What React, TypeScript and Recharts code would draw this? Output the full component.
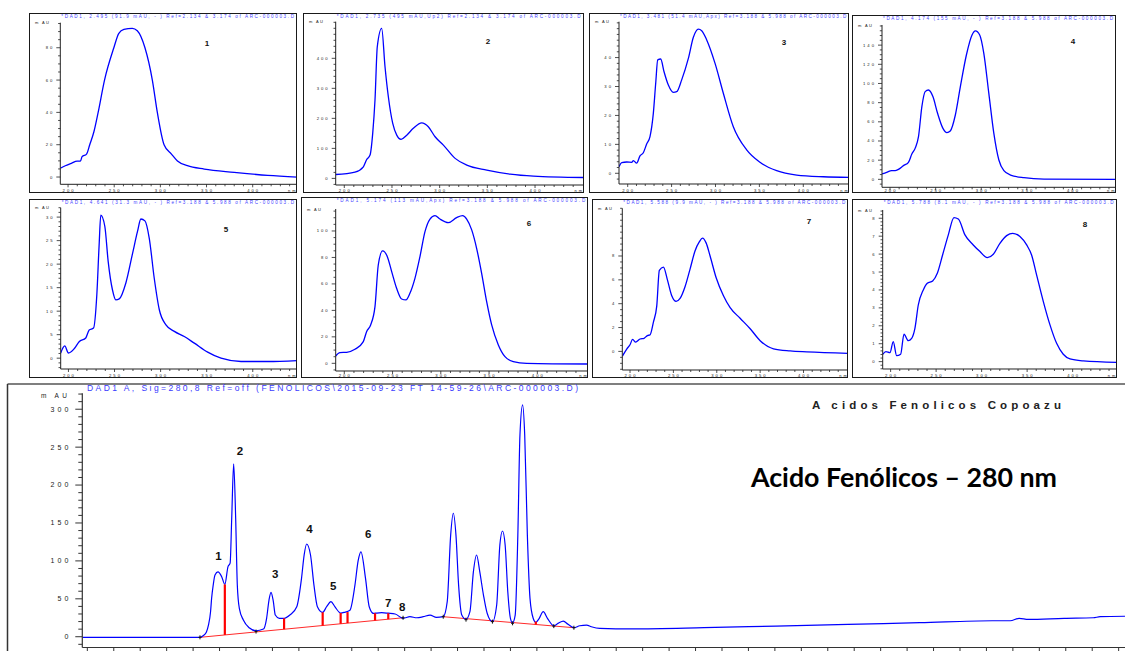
import React from 'react';
import { LineChart, Line, XAxis, YAxis, ComposedChart, ReferenceLine, ReferenceDot } from 'recharts';

// ---------- UV spectra (wavelength nm, absorbance mAU) ----------
const spec1Nm = [191.6, 197, 203.6, 209.8, 213.4, 215.2, 220, 223.5, 228, 232.6, 239.5, 249.6, 255, 260.5, 269.6, 275, 283.3, 291.3, 296.7, 304, 312, 318.5, 329.3, 347.5, 380, 416.3, 448];
const spec1Abs = [5.4, 7, 8.5, 9.9, 9.9, 12.6, 14.2, 20, 28, 40, 60, 80, 88.9, 91.3, 92, 90.5, 80, 60, 40, 20, 14.2, 9.9, 7, 4.9, 2.9, 1, 0];

const spec2Nm = [191, 211.2, 220, 223.5, 227, 229.8, 232.2, 234.6, 239.2, 242.7, 246.2, 250.8, 255, 259.5, 265.5, 272.4, 281.2, 288.1, 295.2, 303.9, 316.2, 328.4, 349.4, 373.9, 398.3, 450.8];
const spec2Abs = [13, 21, 38.7, 63, 77.7, 150, 261, 438.7, 500, 372, 272, 183, 144, 130, 144, 166.7, 185, 172, 138.7, 111, 66.7, 44.4, 27.8, 14.4, 7.7, 3];

const spec3Nm = [190.1, 193.2, 198.9, 204.6, 206.5, 210.2, 214, 217.8, 221.6, 225.4, 229.2, 231.9, 234.2, 237.6, 241.4, 246.3, 252, 255.8, 261.5, 269.1, 274.8, 280.5, 284.3, 290, 299.5, 309, 320.3, 335.5, 350.7, 369.7, 392.5, 422.9, 452.4];
const spec3Abs = [2.3, 3.7, 3.9, 3.8, 4.4, 3.5, 6, 7.1, 10.1, 12.7, 20.7, 31.1, 39.2, 39.5, 35.1, 30.5, 28, 28.2, 32.3, 39.7, 47, 49.8, 49.3, 46.1, 38, 27.6, 16.1, 8.1, 3.8, 0.9, -0.6, -1.2, -1.4];

const spec4Nm = [191.2, 196.3, 201.8, 205.5, 209.2, 214.7, 220.2, 223.9, 227.5, 231.2, 234.9, 238.5, 242.2, 247, 252.1, 258, 262.4, 266, 271.6, 277.1, 283.7, 289.9, 293.6, 298.3, 302.8, 308.3, 313.8, 319.3, 324.8, 332.1, 346.8, 368.8, 447.7];
const spec4Abs = [5.6, 7.3, 9, 9, 10.4, 14.3, 17.7, 26.4, 32.3, 44.5, 75.8, 91.5, 93.2, 86.3, 68.9, 53.2, 48.7, 50.4, 67.1, 96.7, 129.7, 150.6, 154.8, 150.6, 131.5, 89.7, 48, 20.2, 9, 4.5, 1.7, 0.3, 0];

const spec5Nm = [191.6, 196, 200, 206.2, 211.6, 218.8, 222.5, 227.2, 230.8, 233.3, 235.1, 239.5, 243.1, 247.8, 251.4, 255.1, 262.3, 269.6, 275, 278.6, 283, 287.7, 293.1, 298.6, 305.8, 314.9, 325.7, 336.6, 351.1, 365.6, 387.3, 416.3, 448];
const spec5Abs = [1.1, 2.6, 1.1, 2, 3.5, 4.3, 6, 6.4, 13.5, 24.1, 30.4, 28, 20.6, 14.5, 12.4, 12.6, 16, 22.3, 27, 29.6, 29.2, 25.5, 17, 10.3, 7.1, 5.7, 4.6, 3.2, 1.3, 0, -0.7, -0.7, -0.5];

const spec6Nm = [191.1, 195.5, 202.4, 211, 219.7, 223.1, 227.3, 231.8, 235.2, 239.7, 244.6, 249.1, 254.2, 259.4, 263.9, 268, 273.2, 278.4, 283.6, 288.8, 294, 299.1, 307.8, 316.4, 322.6, 326.8, 332, 337.1, 342.3, 347.5, 352.7, 359.6, 366.5, 375.1, 389, 452.8];
const spec6Abs = [5.5, 8.1, 8.3, 10.6, 16.4, 23.9, 29, 42.8, 74.3, 84.9, 80.6, 69.3, 56.7, 48.6, 47.9, 52.9, 64.2, 80.6, 99.5, 109, 111.6, 109, 106.3, 110.1, 111.6, 109, 100.8, 86.9, 68, 46.6, 29, 13.9, 5, 1.3, 0, -0.5];

const spec7Nm = [191.2, 196.2, 200, 203, 206.5, 211.5, 216.2, 220, 223, 226.9, 230.8, 233.8, 238.5, 243.1, 248.1, 253.1, 257.7, 263.5, 269.2, 275, 280, 283.5, 287.7, 292.3, 299.2, 307.7, 315.4, 326.9, 338.5, 350, 365.4, 384.6, 403.8, 451.6];
const spec7Abs = [-0.4, 0.2, 0.56, 1, 0.78, 1.04, 1.1, 1.33, 1.38, 2.44, 3.8, 6.8, 7.07, 6, 4.67, 4.2, 4.44, 5.44, 6.9, 8.44, 9.2, 9.5, 9.1, 8, 6.2, 4.67, 3.67, 2.78, 1.9, 0.9, 0.22, 0.04, -0.04, -0.16];

const spec8Nm = [191.3, 194.9, 199.3, 202.9, 206.6, 211, 214.7, 219.4, 223.1, 226.7, 230.4, 235.9, 240.3, 246.2, 251.3, 257.1, 263.4, 269.6, 274.4, 281.7, 290.8, 298.2, 306.2, 312.8, 320.1, 327.5, 334.1, 342.1, 349.5, 354.9, 360.4, 367.8, 375.1, 382.4, 389.7, 397.1, 411.7, 448.4];
const spec8Abs = [0.41, 0.56, 0.5, 1.12, 0.33, 0.41, 1.53, 1.17, 1.3, 1.86, 3.16, 4, 4.37, 4.5, 4.93, 5.95, 7.07, 8.04, 7.96, 7.07, 6.51, 6.14, 5.8, 5.99, 6.6, 7.03, 7.16, 6.98, 6.51, 5.95, 4.84, 3.35, 2.05, 1.02, 0.41, 0.15, 0.04, -0.04];

const panelTitles = [
  '*DAD1, 2.495 (91.9 mAU, - ) Ref=2.134 & 3.174 of ARC-000003.D',
  '*DAD1, 2.735 (495 mAU,Up2) Ref=2.134 & 3.174 of ARC-000003.D',
  '*DAD1, 3.481 (51.4 mAU,Apx) Ref=3.188 & 5.988 of ARC-000003.D',
  '*DAD1, 4.174 (155 mAU, - ) Ref=3.188 & 5.988 of ARC-000003.D',
  '*DAD1, 4.641 (31.3 mAU, - ) Ref=3.188 & 5.988 of ARC-000003.D',
  '*DAD1, 5.174 (113 mAU,Apx) Ref=3.188 & 5.988 of ARC-000003.D',
  '*DAD1, 5.588 (9.9 mAU, - ) Ref=3.188 & 5.988 of ARC-000003.D',
  '*DAD1, 5.788 (8.1 mAU, - ) Ref=3.188 & 5.988 of ARC-000003.D',
];
const panelNumbers = ['1', '2', '3', '4', '5', '6', '7', '8'];
const panelYMajors = [
  [0, 20, 40, 60, 80],
  [0, 100, 200, 300, 400],
  [0, 10, 20, 30, 40],
  [0, 20, 40, 60, 80, 100, 120, 140],
  [0, 5, 10, 15, 20, 25, 30],
  [0, 20, 40, 60, 80, 100],
  [0, 2, 4, 6, 8],
  [0, 1, 2, 3, 4, 5, 6, 7, 8],
];
const specXMajors = [200, 250, 300, 350, 400];

// ---------- Chromatogram 280 nm (time min, mAU) ----------
const chromTime = [-0.09, 2.13, 2.19, 2.25, 2.29, 2.33, 2.35, 2.38, 2.414, 2.47, 2.54, 2.6, 2.66, 2.7, 2.73, 2.767, 2.805, 2.836, 2.874, 2.95, 3.06, 3.19, 3.33, 3.39, 3.435, 3.473, 3.516, 3.554, 3.63, 3.72, 3.83, 3.96, 4.05, 4.1, 4.147, 4.22, 4.285, 4.35, 4.45, 4.525, 4.607, 4.68, 4.79, 4.86, 4.966, 5.06, 5.12, 5.174, 5.26, 5.33, 5.41, 5.44, 5.565, 5.69, 5.82, 5.97, 6.1, 6.23, 6.35, 6.48, 6.6, 6.73, 6.805, 6.87, 6.92, 6.97, 7.02, 7.08, 7.16, 7.234, 7.3, 7.36, 7.42, 7.49, 7.56, 7.66, 7.74, 7.8, 7.85, 7.9, 7.95, 8.0, 8.04, 8.09, 8.14, 8.18, 8.23, 8.27, 8.32, 8.37, 8.43, 8.48, 8.545, 8.62, 8.7, 8.82, 8.9, 9.0, 9.09, 9.2, 9.31, 9.44, 9.53, 9.69, 10.3, 11.66, 13.02, 14.38, 15.74, 17.11, 17.45, 17.62, 17.79, 18.47, 19.02, 19.15, 19.62];
const chromAbs = [-0.8, -0.8, 1.3, 6, 15.4, 33, 50.6, 68, 81.4, 85.4, 79.2, 69, 92.4, 97, 156, 228, 156, 68, 37.5, 22, 11.9, 7.9, 10.1, 24.3, 48.4, 58.6, 47, 28.6, 24.3, 24.3, 28.6, 39.6, 77, 108, 122.3, 107.8, 68, 39.6, 32.2, 39.6, 46.2, 39.6, 31.3, 32.2, 35, 68, 100, 112, 77, 39.6, 30.8, 31, 31.7, 31, 30, 24.3, 26.4, 25, 26.4, 28.6, 25.5, 26.4, 46.2, 134, 162.8, 134, 68, 28.6, 23, 33, 85.8, 107.8, 85.8, 55, 31, 19.8, 41.8, 121, 139.4, 121, 59.4, 24.3, 18.5, 28.6, 134, 266, 305.7, 266, 134, 50.6, 24.3, 19, 24.3, 33, 24.3, 14.5, 17.6, 20.7, 16.3, 11.9, 14.5, 15.4, 13.2, 11, 10.3, 11.9, 14.1, 16.3, 18.5, 21.1, 21.1, 24.3, 22.9, 24.3, 25, 26.4, 27];

// integration baselines (start/end points)
const baseStartT = [2.13, 6.73];
const baseStartV = [-0.8, 26.4];
const baseEndT = [5.97, 9.2];
const baseEndV = [25, 11.9];
// red drop lines
const dropT = [2.6, 3.72, 4.45, 4.79, 4.92, 5.44, 5.69, 8.48];
const dropTop = [69, 24.3, 32.2, 31.3, 32.5, 31, 31, 20];
const dropBottom = [2.4, 9.9, 14.8, 17.1, 18, 21.5, 23.2, 16.1];
// baseline tick markers
const markT = [2.13, 3.19, 5.97, 6.73, 7.16, 7.66, 8.04, 8.82, 9.2];
const markV = [-0.8, 6.8, 25, 26.4, 22.5, 19.9, 17.7, 14, 11.9];
// peak labels
const peakLabelT = [2.48, 2.887, 3.55, 4.2, 4.65, 5.31, 5.69, 5.955];
const peakLabelV = [106.9, 245.4, 82.3, 141.7, 66.5, 135, 44, 38.8];
const peakLabelText = ['1', '2', '3', '4', '5', '6', '7', '8'];
const chromYMajors = [0, 50, 100, 150, 200, 250, 300];

// ---------- layout ----------
const panelLayout = [
  { l: 29, t: 13, r: 297, b: 193, ax: 60.3, at: 22.7, ab: 184.3, xd: [191.6, 448], yd: [-4.5, 95.5], ys: 5, nx: 207, ny: 43 },
  { l: 303, t: 13, r: 583.5, b: 193, ax: 335.7, at: 21.7, ab: 185, xd: [191, 450.8], yd: [-22, 522], ys: 20, nx: 488, ny: 41 },
  { l: 589, t: 13, r: 849.3, b: 193.3, ax: 619, at: 21.7, ab: 184, xd: [190.1, 452.4], yd: [-3.7, 52.4], ys: 2, nx: 784, ny: 42 },
  { l: 852, t: 15, r: 1116, b: 193.3, ax: 882, at: 25, ab: 187.3, xd: [191.2, 447.7], yd: [-8.3, 161], ys: 5, nx: 1073, ny: 41 },
  { l: 29, t: 199, r: 297, b: 378, ax: 60.7, at: 207.7, ab: 369, xd: [191.6, 448], yd: [-2.3, 32], ys: 1, nx: 226, ny: 229 },
  { l: 301, t: 197, r: 588.3, b: 378.3, ax: 335.7, at: 209, ab: 371, xd: [191.1, 452.8], yd: [-5.8, 116.6], ys: 5, nx: 529, ny: 223 },
  { l: 592, t: 199, r: 848.3, b: 378.3, ax: 622.3, at: 208.3, ab: 370, xd: [191.1, 451.6], yd: [-1.56, 12], ys: 0.5, nx: 809, ny: 221 },
  { l: 852, t: 199, r: 1116.7, b: 377.7, ax: 882.7, at: 210, ab: 369, xd: [191.3, 448.4], yd: [-0.41, 8.46], ys: 0.2, nx: 1085, ny: 224 },
];
const spectra = [
  [spec1Nm, spec1Abs], [spec2Nm, spec2Abs], [spec3Nm, spec3Abs], [spec4Nm, spec4Abs],
  [spec5Nm, spec5Abs], [spec6Nm, spec6Abs], [spec7Nm, spec7Abs], [spec8Nm, spec8Abs],
];

const FONT = '"Liberation Sans", Arial, sans-serif';
const AXIS = '#222';

const tickRange = (a: number, b: number, s: number) => {
  const out: number[] = [];
  const start = Math.ceil(a / s - 1e-9) * s;
  for (let v = start; v <= b + 1e-9; v += s) out.push(Math.round(v * 1000) / 1000);
  return out;
};
const isIn = (arr: number[], v: number) => arr.some((m) => Math.abs(m - v) < 1e-6);

const specXTicks = tickRange(200, 440, 10);

const makeSpecXTick = (labelOffset: number) => (props: any) => {
  const { x, y, payload } = props;
  const major = isIn(specXMajors, payload.value);
  return (
    <g>
      <line x1={x} x2={x} y1={y} y2={y + (major ? 3 : 2)} stroke={AXIS} strokeWidth={0.8} />
      {major && (
        <text x={x} y={y + labelOffset} dx={1} textAnchor="middle" fontSize={4.2} letterSpacing={2} fill={AXIS} fontFamily={FONT}>
          {payload.value}
        </text>
      )}
    </g>
  );
};

const makeSpecYTick = (majors: number[]) => (props: any) => {
  const { x, y, payload } = props;
  const major = isIn(majors, payload.value);
  return (
    <g>
      <line x1={x - (major ? 4 : 2.2)} x2={x} y1={y} y2={y} stroke={AXIS} strokeWidth={0.8} />
      {major && (
        <text x={x - 6} y={y + 1.5} textAnchor="end" fontSize={4.2} letterSpacing={2} fill={AXIS} fontFamily={FONT}>
          {payload.value}
        </text>
      )}
    </g>
  );
};

function SpectrumPanel({ idx }: { idx: number }) {
  const p = panelLayout[idx];
  const [nmArr, absArr] = spectra[idx];
  const data = nmArr.map((n, i) => ({ nm: n, v: absArr[i] }));
  const w = p.r - p.l;
  const h = p.b - p.t;
  const yTicks = tickRange(p.yd[0], p.yd[1], p.ys);
  const labelOffset = Math.min(7.8, p.b - p.ab - 1);
  return (
    <div style={{ position: 'absolute', left: p.l, top: p.t, width: w, height: h }}>
      <LineChart width={w} height={h} data={data} margin={{ top: p.at - p.t, right: 0, bottom: 0, left: 0 }}>
        <XAxis
          type="number"
          dataKey="nm"
          domain={p.xd}
          allowDataOverflow
          ticks={specXTicks}
          interval={0}
          tickSize={0}
          tickMargin={0}
          tick={makeSpecXTick(labelOffset)}
          height={p.b - p.ab}
          axisLine={{ stroke: AXIS, strokeWidth: 1 }}
        />
        <YAxis
          type="number"
          domain={p.yd}
          allowDataOverflow
          ticks={yTicks}
          interval={0}
          tickSize={0}
          tickMargin={0}
          tick={makeSpecYTick(panelYMajors[idx])}
          width={p.ax - p.l}
          axisLine={{ stroke: AXIS, strokeWidth: 1 }}
        />
        <Line type="monotone" dataKey="v" stroke="#0000ff" strokeWidth={1.3} dot={false} isAnimationActive={false} />
      </LineChart>
      <div style={{ position: 'absolute', left: 0, top: 0, width: w, height: h, border: '1px solid #1a1a1a', boxSizing: 'border-box', pointerEvents: 'none' }} />
    </div>
  );
}

const chromXTicks = tickRange(0, 19.5, 0.5);
const chromYTicks = tickRange(-10, 320, 10);

const ChromXTick = (props: any) => {
  const { x, y } = props;
  return <line x1={x} x2={x} y1={y} y2={y + 8} stroke="#333" strokeWidth={1} />;
};
const ChromYTick = (props: any) => {
  const { x, y, payload } = props;
  const major = isIn(chromYMajors, payload.value);
  return (
    <g>
      <line x1={x - (major ? 7 : 4)} x2={x} y1={y} y2={y} stroke="#333" strokeWidth={1} />
      {major && (
        <text x={x - 11} y={y + 2.4} textAnchor="end" fontSize={7} letterSpacing={3} fill="#222" fontFamily={FONT}>
          {payload.value}
        </text>
      )}
    </g>
  );
};

function Chromatogram() {
  const data = chromTime.map((t, i) => ({ t, v: chromAbs[i] }));
  return (
    <div style={{ position: 'absolute', left: 0, top: 384, width: 1125, height: 290 }}>
      <ComposedChart width={1125} height={290} data={data} margin={{ top: 9.3, right: 0, bottom: 0, left: 0 }}>
        <XAxis
          type="number"
          dataKey="t"
          domain={[-0.095, 19.62]}
          allowDataOverflow
          ticks={chromXTicks}
          interval={0}
          tickSize={0}
          tickMargin={0}
          tick={ChromXTick}
          height={26.5}
          axisLine={{ stroke: '#333', strokeWidth: 1.2 }}
        />
        <YAxis
          type="number"
          domain={[-14.2, 321]}
          allowDataOverflow
          ticks={chromYTicks}
          interval={0}
          tickSize={0}
          tickMargin={0}
          tick={ChromYTick}
          width={82.3}
          axisLine={{ stroke: '#333', strokeWidth: 1.2 }}
        />
        {baseStartT.map((t, i) => (
          <ReferenceLine
            key={'b' + i}
            segment={[{ x: t, y: baseStartV[i] }, { x: baseEndT[i], y: baseEndV[i] }]}
            stroke="#ff2a2a"
            strokeWidth={1}
          />
        ))}
        <Line type="monotone" dataKey="v" stroke="#0000ff" strokeWidth={1.2} dot={false} isAnimationActive={false} />
        {dropT.map((t, i) => (
          <ReferenceLine
            key={'d' + i}
            segment={[{ x: t, y: dropBottom[i] }, { x: t, y: dropTop[i] }]}
            stroke="#ff0000"
            strokeWidth={2.2}
          />
        ))}
        {markT.map((t, i) => (
          <ReferenceDot
            key={'m' + i}
            x={t}
            y={markV[i]}
            r={0}
            shape={(sp: any) => (
              <g>
                <line x1={sp.cx} x2={sp.cx} y1={sp.cy - 2} y2={sp.cy + 2} stroke="#111" strokeWidth={1} />
                <line x1={sp.cx - 1.5} x2={sp.cx + 1.5} y1={sp.cy} y2={sp.cy} stroke="#111" strokeWidth={1} />
              </g>
            )}
          />
        ))}
        {peakLabelT.map((t, i) => (
          <ReferenceDot
            key={'l' + i}
            x={t}
            y={peakLabelV[i]}
            r={0}
            shape={(sp: any) => (
              <text x={sp.cx} y={sp.cy + 4} textAnchor="middle" fontSize={11.5} fontWeight="bold" fill="#111" fontFamily={FONT}>
                {peakLabelText[i]}
              </text>
            )}
          />
        ))}
      </ComposedChart>
    </div>
  );
}

function Overlay() {
  return (
    <svg width={1125} height={651} style={{ position: 'absolute', left: 0, top: 0, pointerEvents: 'none' }}>
      {panelLayout.map((p, i) => (
        <g key={i}>
          <text
            x={p.ax + 1}
            y={p.t + 4.8}
            fontSize={4.6}
            fill="#4646ff"
            fontFamily={FONT}
            textLength={p.r - p.ax - 4}
            lengthAdjust="spacing"
          >
            {panelTitles[i]}
          </text>
          <text x={p.l + 6} y={p.at + 1.5} fontSize={4} fill={AXIS} fontFamily={FONT} textLength={14} lengthAdjust="spacing">
            m AU
          </text>
          <text x={p.r - 9} y={p.ab + Math.min(7.8, p.b - p.ab - 1)} fontSize={4} fill={AXIS} fontFamily={FONT} letterSpacing={2}>
            nm
          </text>
          <text x={p.nx} y={p.ny + 3} textAnchor="middle" fontSize={8} fontWeight="bold" fill="#111" fontFamily={FONT}>
            {panelNumbers[i]}
          </text>
        </g>
      ))}
      <line x1={7.5} y1={384} x2={1125} y2={384} stroke="#555" strokeWidth={1.3} />
      <line x1={7.5} y1={384} x2={7.5} y2={651} stroke="#333" strokeWidth={1.5} />
      <text x={87} y={390.8} fontSize={8.5} fill="#3a3aff" fontFamily={FONT} textLength={491} lengthAdjust="spacing">
        {'DAD1 A, Sig=280,8 Ref=off (FENOLICOS\\2015-09-23 FT 14-59-26\\ARC-000003.D)'}
      </text>
      <text x={41} y={397.5} fontSize={6.5} fill="#222" fontFamily={FONT} textLength={26} lengthAdjust="spacing">
        m AU
      </text>
      <text x={812} y={408.5} fontSize={11.5} fontWeight="bold" fill="#222" fontFamily={FONT} textLength={249} lengthAdjust="spacing">
        A cidos Fenolicos Copoazu
      </text>
      <text x={751} y={486.5} fontSize={27} fontWeight="bold" fill="#000" fontFamily="Lato, 'Open Sans', sans-serif" textLength={306} lengthAdjust="spacingAndGlyphs">
        Acido Fenólicos – 280 nm
      </text>
    </svg>
  );
}

export default function App() {
  return (
    <div style={{ position: 'absolute', left: 0, top: 0, width: 1125, height: 651, overflow: 'hidden', background: '#fff' }}>
      {panelLayout.map((_, i) => (
        <SpectrumPanel key={i} idx={i} />
      ))}
      <Chromatogram />
      <Overlay />
    </div>
  );
}
